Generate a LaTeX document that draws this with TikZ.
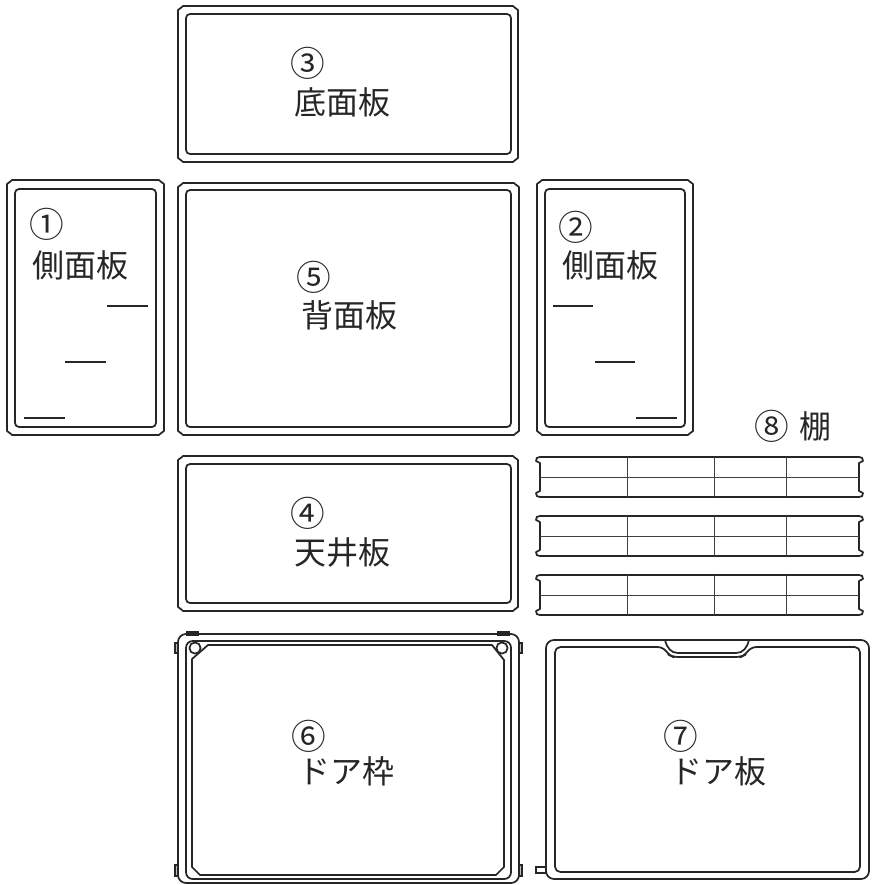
\documentclass[tikz,border=0pt]{standalone}
\usepackage{fontspec}
\setmainfont{Noto Sans CJK JP}
\newcommand{\boardpanel}[8]{%
  \draw[outerline] (#1+5,#2) -- (#3-5,#2) -- (#3-4,#2+1) -- (#3,#2+4) -- (#3,#4-4) -- (#3-4,#4-1) -- (#3-5,#4) -- (#1+5,#4) -- (#1+4,#4-1) -- (#1,#4-4) -- (#1,#2+4) -- (#1+4,#2+1) -- cycle;
  \draw[innerline,rounded corners=3pt] (#5,#6) rectangle (#7,#8);
}
\newcommand{\shelfboard}[2]{%
  \draw[outerline] (540,#1) -- (859,#1) .. controls (862,#1) and (863,#1+1) .. (863,#1+4) -- (859,#1+6) -- (859,#2-6) -- (863,#2-4) .. controls (863,#2-1) and (862,#2) .. (859,#2) -- (540,#2) .. controls (537,#2) and (536,#2-1) .. (536,#2-4) -- (540,#2-6) -- (540,#1+6) -- (536,#1+4) .. controls (536,#1+1) and (537,#1) .. (540,#1) -- cycle;
  \draw[thinline] (540,#1+20) -- (859,#1+20);
  \draw[thinline] (627,#1) -- (627,#2) (714,#1) -- (714,#2) (786,#1) -- (786,#2);
}
\tikzset{
  outerline/.style={draw=black!85,line width=1.3pt,line join=round},
  innerline/.style={draw=black!85,line width=1.3pt,line join=round},
  thinline/.style={draw=black!75,line width=.75pt},
  tabbox/.style={draw=black!85,fill=black!25,line width=.8pt},
  lbl/.style={inner sep=0pt,text=black!85,font=\fontsize{24pt}{26pt}\selectfont},
  numlbl/.style={inner sep=0pt,text=black!85,font=\fontsize{26pt}{28pt}\selectfont},
  dashmark/.style={draw=black!85,line width=1pt},
}
\begin{document}
\begin{tikzpicture}[x=.75pt,y=-.75pt]
\useasboundingbox (0,0) rectangle (871,885);
\boardpanel{178}{6}{518}{162}{186}{14}{511}{154}
\boardpanel{178}{183}{519}{435}{186}{190}{511}{427}
\boardpanel{7}{180}{164}{435}{15}{189}{156}{427}
\boardpanel{537}{180}{693}{435}{545}{189}{685}{427}
\boardpanel{178}{456}{518}{611}{186}{464}{511}{603}
\shelfboard{457}{497}
\shelfboard{516}{556}
\shelfboard{575}{615}
% door frame
\draw[tabbox] (187,632) rectangle (198,635);
\draw[tabbox] (498,632) rectangle (509,635);
\draw[tabbox] (175,643) rectangle (178,653);
\draw[tabbox] (519,643) rectangle (522,653);
\draw[tabbox] (175,865) rectangle (178,876);
\draw[tabbox] (519,865) rectangle (522,876);
\draw[outerline,rounded corners=6pt] (178,634) rectangle (519,883);
\draw[innerline,rounded corners=5pt] (186,641) rectangle (511,879);
\draw[innerline] (208,645) -- (492,645) -- (504,660) -- (504,867) -- (496,875) -- (200,875) -- (192,867) -- (192,659) -- cycle;
\draw[innerline] (195,648) circle[radius=5.6];
\draw[innerline] (502,648) circle[radius=5.6];
% door board
\draw[tabbox,fill=white] (536,867) rectangle (546,873);
\draw[outerline,rounded corners=6pt] (546,640) rectangle (869,879);
\draw[innerline,rounded corners=4pt] (555,647) -- (663,647) -- (669,655) -- (673,657) -- (741,657) -- (745,655) -- (751,647) -- (860,647) -- (860,872) -- (555,872) -- cycle;
\draw[innerline] (665,640) .. controls (667,648) and (671,653) .. (678,653) -- (736,653) .. controls (743,653) and (747,648) .. (749,640);
% marks on side boards
\coordinate (a1) at (107,306); \coordinate (a2) at (148,306);
\coordinate (b1) at (65,362); \coordinate (b2) at (106,362);
\coordinate (c1) at (24,418); \coordinate (c2) at (65,418);
\coordinate (d1) at (553,306); \coordinate (d2) at (593,306);
\coordinate (e1) at (595,362); \coordinate (e2) at (635,362);
\coordinate (f1) at (636,418); \coordinate (f2) at (677,418);
\draw[dashmark] (a1) -- (a2) (b1) -- (b2) (c1) -- (c2) (d1) -- (d2) (e1) -- (e2) (f1) -- (f2);
% labels
\node[numlbl] (n3) at (308,63) {③};
\node[lbl] (t3) at (342,102) {底面板};
\node[numlbl] (n1) at (47,224) {①};
\node[lbl] (t1) at (80,265) {側面板};
\node[numlbl] (n5) at (314,277) {⑤};
\node[lbl] (t5) at (349,315) {背面板};
\node[numlbl] (n2) at (576,227) {②};
\node[lbl] (t2) at (610,265) {側面板};
\node[numlbl] (n4) at (308,513) {④};
\node[lbl] (t4) at (342,552) {天井板};
\node[numlbl] (n8) at (772,426) {⑧};
\node[lbl] (t8) at (815,426) {棚};
\node[numlbl] (n6) at (309,736) {⑥};
\node[lbl] (t6) at (346,771) {ドア枠};
\node[numlbl] (n7) at (681,736) {⑦};
\node[lbl] (t7) at (718,771) {ドア板};
\end{tikzpicture}
\end{document}
